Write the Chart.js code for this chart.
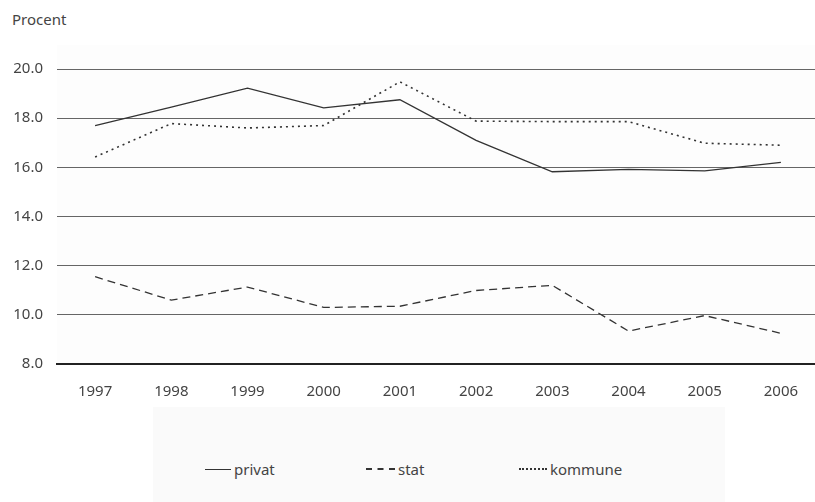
<!DOCTYPE html>
<html>
<head>
<meta charset="utf-8">
<script src="https://cdn.jsdelivr.net/npm/chart.js@4/dist/chart.umd.min.js"></script>
<style>
  html, body { margin: 0; padding: 0; background: #fff; }
  body { width: 815px; height: 502px; position: relative; overflow: hidden; font-family: "Noto Sans", sans-serif; color: #333; }
  #unit { position: absolute; left: 12px; top: 9px; font-size: 15px; color: #444; }
  #wrap { position: absolute; left: 0; top: 0; width: 819px; height: 400px; }
  #legend { position: absolute; left: 153px; top: 407px; width: 572px; height: 95px; background: #fafafa; }
  .item { position: absolute; top: 52px; font-size: 15px; color: #444; display: flex; align-items: center; }
  .swatch { display: inline-block; width: 26px; height: 0; margin-right: 3px; border-top: 1.5px solid #333; }
</style>
</head>
<body>
<div id="unit">Procent</div>
<div id="wrap"><canvas id="chart" width="819" height="400"></canvas></div>
<div id="legend"></div>
<script>
const years = ['1997', '1998', '1999', '2000', '2001', '2002', '2003', '2004', '2005', '2006'];
const privat = [17.7, 18.45, 19.22, 18.42, 18.75, 17.1, 15.82, 15.92, 15.86, 16.2];
const stat = [11.55, 10.6, 11.13, 10.3, 10.35, 10.99, 11.2, 9.34, 9.97, 9.25];
const kommune = [16.42, 17.78, 17.6, 17.7, 19.48, 17.88, 17.86, 17.86, 16.98, 16.9];
const seriesNames = ['privat', 'stat', 'kommune'];
const yTicks = [8, 10, 12, 14, 16, 18, 20];

const textColor = '#444';
const font = { family: 'Noto Sans', size: 15 };

const plotBg = {
    id: 'plotBg',
    beforeDraw(chart) {
        const { ctx, chartArea } = chart;
        ctx.save();
        ctx.fillStyle = '#fdfdfd';
        ctx.fillRect(chartArea.left, chartArea.top - 24, chartArea.right - chartArea.left, chartArea.bottom - chartArea.top + 25);
        ctx.restore();
    }
};

const chart = new Chart(document.getElementById('chart'), {
    type: 'line',
    data: {
        labels: years,
        datasets: [
            { label: seriesNames[0], data: privat, borderColor: '#333', borderWidth: 1.3, pointRadius: 0, tension: 0 },
            { label: seriesNames[1], data: stat, borderColor: '#333', borderWidth: 1.3, borderDash: [8, 5], pointRadius: 0, tension: 0 },
            { label: seriesNames[2], data: kommune, borderColor: '#333', borderWidth: 1.6, borderDash: [2, 4], pointRadius: 0, tension: 0 }
        ]
    },
    options: {
        responsive: false,
        animation: false,
        layout: { padding: { top: 69, right: 0, left: 0, bottom: 0 } },
        scales: {
            x: {
                offset: true,
                grid: { display: false, drawTicks: false },
                border: { display: true, color: '#222', width: 2 },
                ticks: { color: textColor, font, padding: 19, maxRotation: 0 },
                afterFit: s => { s.height = 36; }
            },
            y: {
                min: 8,
                max: 20,
                afterBuildTicks: s => { s.ticks = yTicks.map(v => ({ value: v })); },
                grid: { color: '#666', lineWidth: 1, drawTicks: false },
                border: { display: false },
                ticks: { color: textColor, font, padding: 14, callback: v => Number(v).toFixed(1) },
                afterFit: s => { s.width = 57; }
            }
        },
        plugins: {
            legend: { display: false },
            tooltip: { enabled: false }
        }
    },
    plugins: [plotBg]
});

// legend built from the datasets
const legendEl = document.getElementById('legend');
const itemLeft = [52, 213, 366];
const styles = ['solid', 'dashed', 'dotted'];
chart.data.datasets.forEach((ds, i) => {
    const item = document.createElement('div');
    item.className = 'item';
    item.style.left = itemLeft[i] + 'px';
    const sw = document.createElement('span');
    sw.className = 'swatch';
    sw.style.borderTopStyle = styles[i];
    if (i === 1) { sw.style.borderTopWidth = '2px'; sw.style.width = '29px'; }
    if (i === 2) { sw.style.borderTopWidth = '2px'; sw.style.width = '28px'; }
    item.appendChild(sw);
    item.appendChild(document.createTextNode(ds.label));
    legendEl.appendChild(item);
});
</script>
</body>
</html>
